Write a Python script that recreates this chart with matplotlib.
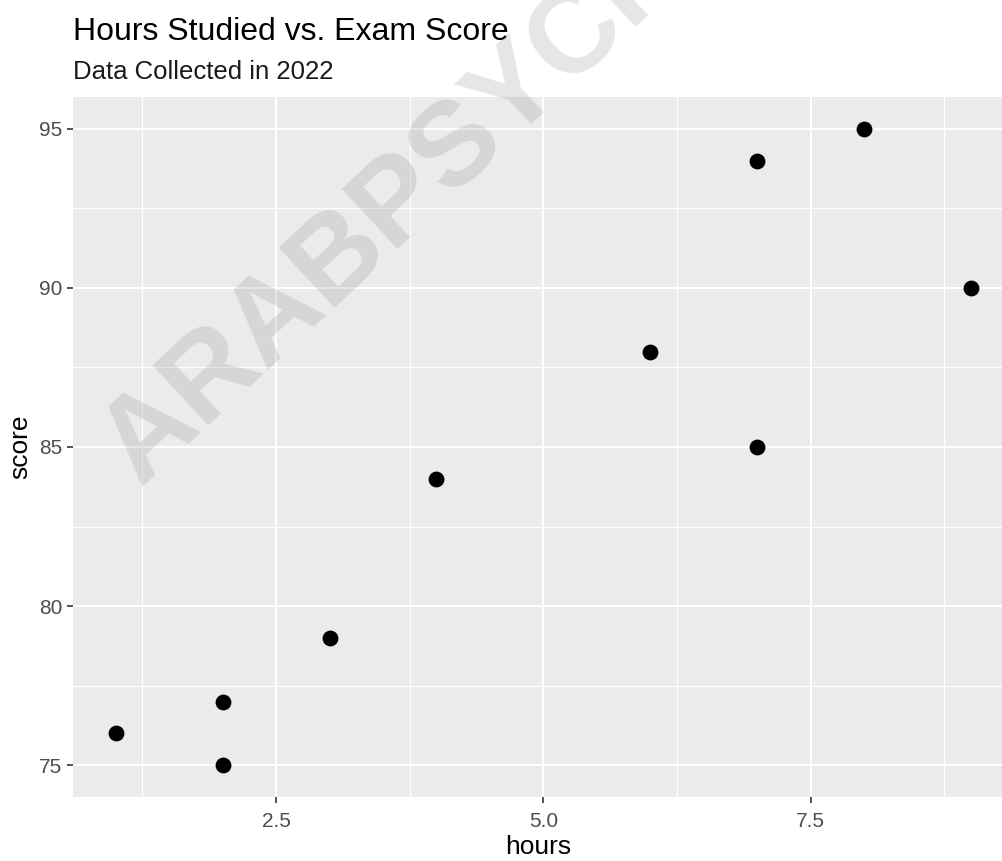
import matplotlib
matplotlib.use("Agg")
import matplotlib.pyplot as plt
from matplotlib.ticker import MultipleLocator

hours = [1, 2, 2, 3, 4, 6, 7, 7, 8, 9]
score = [76, 77, 75, 79, 84, 88, 94, 85, 95, 90]
x_ticks = [2.5, 5.0, 7.5]
x_tick_labels = ["2.5", "5.0", "7.5"]
y_ticks = [75, 80, 85, 90, 95]
title = "Hours Studied vs. Exam Score"
subtitle = "Data Collected in 2022"
watermark = "ARABPSYCH"

plt.rcParams['font.family'] = ['Liberation Sans', 'DejaVu Sans']

fig = plt.figure(figsize=(10.03, 8.61), dpi=100)
ax = fig.add_axes([73/1003, 64/861, 1 - 73/1003, (797-97)/861])
ax.set_facecolor('#ebebeb')
for s in ax.spines.values():
    s.set_visible(False)

ax.set_xlim(0.6, 9.3)
ax.set_ylim(74, 96)
ax.set_xticks(x_ticks)
ax.set_xticklabels(x_tick_labels)
ax.set_yticks(y_ticks)
ax.xaxis.set_minor_locator(MultipleLocator(1.25))
ax.yaxis.set_minor_locator(MultipleLocator(2.5))
ax.grid(which='major', color='white', linewidth=1.5)
ax.grid(which='minor', color='white', linewidth=0.8)
ax.set_axisbelow(True)
ax.tick_params(which='major', length=4.5, width=1.2, color='#333333',
               labelcolor='#4d4d4d', labelsize=15)
ax.tick_params(axis='x', which='major', pad=6)
ax.tick_params(axis='y', which='major', pad=3)
ax.tick_params(which='minor', length=0)

ax.scatter(hours, score, s=130, color='black', zorder=3, linewidths=0)

ax.set_xlabel('hours', fontsize=19, color='black', labelpad=3)
ax.set_ylabel('score', fontsize=19, color='black', labelpad=5)

fig.text(73/1003, 1 - 40/861, title, fontsize=23, color='black', ha='left', va='baseline')
fig.text(73/1003, 1 - 79/861, subtitle, fontsize=18.5, color='#1a1a1a', ha='left', va='baseline')

fig.text(0.394, 0.760, watermark, fontsize=86, fontweight='bold', color='#808080',
         alpha=0.2, rotation=43, ha='center', va='center', zorder=10)

fig.savefig('out.png', dpi=100)
